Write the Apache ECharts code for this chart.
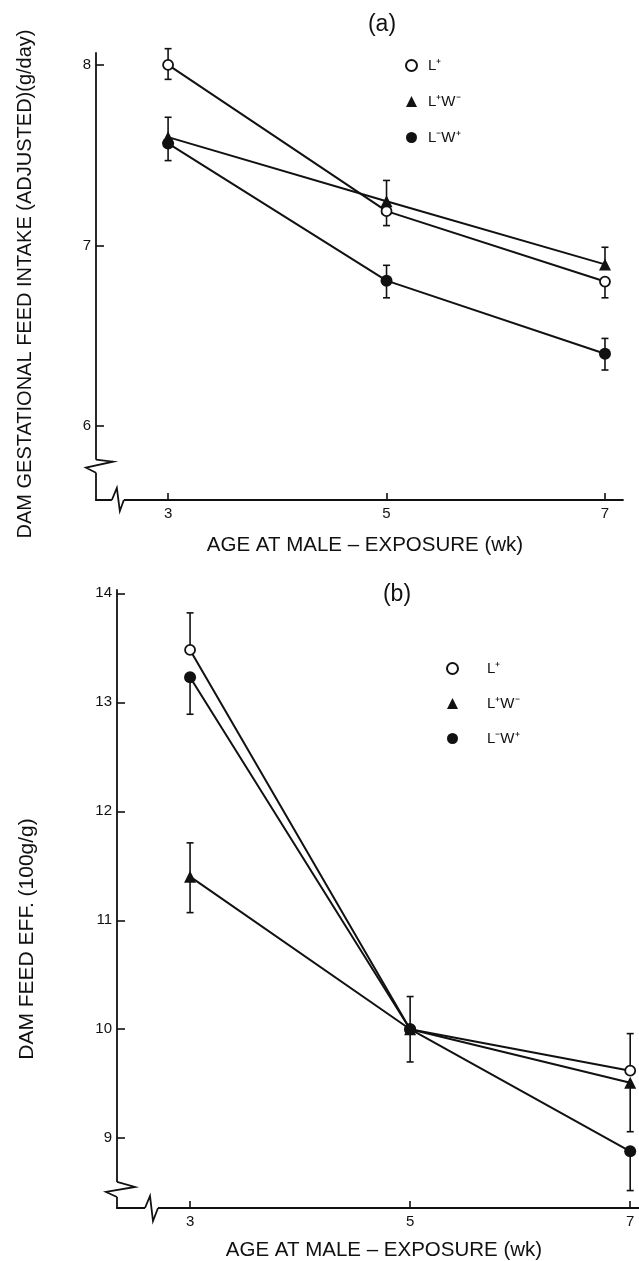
<!DOCTYPE html>
<html><head><meta charset="utf-8">
<script src="https://cdn.jsdelivr.net/npm/echarts@6/dist/echarts.min.js"></script>
<style>html,body{margin:0;padding:0;background:#fff}#c{width:639px;height:1261px}</style>
</head><body><div id="c"></div>
<script>
// ---------- data ----------
const weeks = [3, 5, 7];
const seriesNames = ['L⁺', 'L⁺W⁻', 'L⁻W⁺'];
// Panel (a): dam gestational feed intake (adjusted), g/day
const intakeLp = [8.00, 7.19, 6.80];
const intakeLpWm = [7.60, 7.245, 6.895];
const intakeLmWp = [7.565, 6.805, 6.40];
const intakeLpLow = [7.92, 7.11, 6.71];
const intakeLpHigh = [8.09, 7.19, 6.80];
const intakeLpWmLow = [7.60, 7.245, 6.895];
const intakeLpWmHigh = [7.71, 7.36, 6.99];
const intakeLmWpLow = [7.47, 6.71, 6.31];
const intakeLmWpHigh = [7.565, 6.89, 6.485];
const intakeTicks = [6, 7, 8];
// Panel (b): dam feed efficiency, 100 g/g
const effLp = [13.48, 10.0, 9.62];
const effLpWm = [11.40, 10.0, 9.51];
const effLmWp = [13.23, 10.0, 8.88];
const effLpLow = [13.48, 9.70, 9.62];
const effLpHigh = [13.82, 10.30, 9.96];
const effLpWmLow = [11.07, 10.0, 9.06];
const effLpWmHigh = [11.71, 10.0, 9.51];
const effLmWpLow = [12.89, 10.0, 8.52];
const effLmWpHigh = [13.23, 10.0, 8.88];
const effTicks = [9, 10, 11, 12, 13, 14];
const xTicks = [3, 5, 7];

// ---------- styling ----------
const FONT = '"Liberation Sans", Arial, sans-serif';
const BLACK = '#111';
const markerStyles = [
  {symbol: 'circle', symbolSize: 10, itemStyle: {color: '#fff', borderColor: BLACK, borderWidth: 1.8}},
  {symbol: 'triangle', symbolSize: 12, itemStyle: {color: BLACK, borderColor: BLACK, borderWidth: 0}},
  {symbol: 'circle', symbolSize: 12, itemStyle: {color: BLACK, borderColor: BLACK, borderWidth: 0}}
];

function pairs(xs, ys) { return xs.map((x, i) => [x, ys[i]]); }
function errData(xs, v, lo, hi) { return xs.map((x, i) => [x, lo[i], hi[i], v[i]]); }

function errRender(params, api) {
  const x = api.value(0), lo = api.value(1), hi = api.value(2), v = api.value(3);
  const pLo = api.coord([x, lo]), pHi = api.coord([x, hi]);
  const w = 3.5;
  const style = {stroke: BLACK, lineWidth: 1.6, fill: null};
  const ch = [{type: 'line', shape: {x1: pLo[0], y1: pLo[1], x2: pHi[0], y2: pHi[1]}, style}];
  if (lo < v - 1e-9) ch.push({type: 'line', shape: {x1: pLo[0] - w, y1: pLo[1], x2: pLo[0] + w, y2: pLo[1]}, style});
  if (hi > v + 1e-9) ch.push({type: 'line', shape: {x1: pHi[0] - w, y1: pHi[1], x2: pHi[0] + w, y2: pHi[1]}, style});
  return {type: 'group', children: ch};
}

function lineSeries(name, idx, data, gi) {
  return Object.assign({
    type: 'line', name, data, xAxisIndex: gi, yAxisIndex: gi, z: 3,
    lineStyle: {color: BLACK, width: 2}, showSymbol: true, animation: false
  }, markerStyles[idx]);
}
function errSeries(data, gi) {
  return {type: 'custom', renderItem: errRender, data, xAxisIndex: gi, yAxisIndex: gi, z: 1, animation: false, silent: true};
}

function xAxisCfg(gi, min, max) {
  return {
    type: 'value', gridIndex: gi, min, max,
    axisLine: {show: true, onZero: false, lineStyle: {color: BLACK, width: 1.8}},
    axisTick: {show: true, inside: true, length: 7, customValues: xTicks, lineStyle: {color: BLACK, width: 1.6}},
    axisLabel: {customValues: xTicks, color: BLACK, fontSize: 15, fontFamily: FONT, margin: 6},
    splitLine: {show: false}
  };
}
function yAxisCfg(gi, min, max, ticks) {
  return {
    type: 'value', gridIndex: gi, min, max,
    axisLine: {show: true, onZero: false, lineStyle: {color: BLACK, width: 1.8}},
    axisTick: {show: true, inside: true, length: 8, customValues: ticks, lineStyle: {color: BLACK, width: 1.6}},
    axisLabel: {customValues: ticks, color: BLACK, fontSize: 15, fontFamily: FONT, margin: 5},
    splitLine: {show: false}
  };
}
function legendCfg(left, top, gap, textPad) {
  return {
    left, top, orient: 'vertical', itemGap: gap, itemWidth: 11, itemHeight: 11,
    data: seriesNames.map((n, i) => ({name: n, icon: i === 1 ? 'triangle' : 'circle'})),
    textStyle: {color: BLACK, fontSize: 15, fontFamily: FONT, padding: [0, 0, 0, textPad]},
    selectedMode: false
  };
}

const chart = echarts.init(document.getElementById('c'), null, {renderer: 'canvas'});
chart.setOption({
  backgroundColor: '#fff',
  animation: false,
  grid: [
    {left: 96, right: 16, top: 53, bottom: 761},
    {left: 117, right: 0, top: 590, bottom: 53}
  ],
  xAxis: [xAxisCfg(0, 2.34, 7.165), xAxisCfg(1, 2.336, 7.08)],
  yAxis: [yAxisCfg(0, 5.59, 8.066, intakeTicks), yAxisCfg(1, 8.36, 14.03, effTicks)],
  legend: [legendCfg(400, 53, 21, 6), legendCfg(441, 656, 20, 24)],
  series: [
    lineSeries(seriesNames[0], 0, pairs(weeks, intakeLp), 0),
    lineSeries(seriesNames[1], 1, pairs(weeks, intakeLpWm), 0),
    lineSeries(seriesNames[2], 2, pairs(weeks, intakeLmWp), 0),
    errSeries(errData(weeks, intakeLp, intakeLpLow, intakeLpHigh), 0),
    errSeries(errData(weeks, intakeLpWm, intakeLpWmLow, intakeLpWmHigh), 0),
    errSeries(errData(weeks, intakeLmWp, intakeLmWpLow, intakeLmWpHigh), 0),
    lineSeries(seriesNames[0], 0, pairs(weeks, effLp), 1),
    lineSeries(seriesNames[1], 1, pairs(weeks, effLpWm), 1),
    lineSeries(seriesNames[2], 2, pairs(weeks, effLmWp), 1),
    errSeries(errData(weeks, effLp, effLpLow, effLpHigh), 1),
    errSeries(errData(weeks, effLpWm, effLpWmLow, effLpWmHigh), 1),
    errSeries(errData(weeks, effLmWp, effLmWpLow, effLmWpHigh), 1)
  ]
});

// ---------- decorations: axis breaks and titles ----------
function breaks(gi, xmin, ymin, xBreakVal, yBreakVal, yShape, xShape) {
  const org = chart.convertToPixel({gridIndex: gi}, [xmin, ymin]);
  const yb = chart.convertToPixel({gridIndex: gi}, [xmin, yBreakVal])[1];
  const xb = chart.convertToPixel({gridIndex: gi}, [xBreakVal, ymin])[0];
  const ls = {stroke: BLACK, lineWidth: 1.8, fill: null};
  return [
    {type: 'rect', shape: {x: org[0] - 2, y: yb + yShape[0][1], width: 4, height: yShape[3][1] - yShape[0][1]}, style: {fill: '#fff'}, z: 50},
    {type: 'polyline', shape: {points: yShape.map(p => [org[0] + p[0], yb + p[1]])}, style: ls, z: 51},
    {type: 'rect', shape: {x: xb + xShape[0][0], y: org[1] - 2, width: xShape[3][0] - xShape[0][0], height: 4}, style: {fill: '#fff'}, z: 50},
    {type: 'polyline', shape: {points: xShape.map(p => [xb + p[0], org[1] + p[1]])}, style: ls, z: 51}
  ];
}
function txt(text, x, y, size, rot) {
  return {type: 'text', x, y, rotation: rot || 0, z: 60,
    style: {text, fill: BLACK, font: size + 'px ' + FONT, textAlign: 'center', textVerticalAlign: 'middle'}};
}
const g = []
  .concat(breaks(0, 2.34, 5.59, 2.54, 5.78, [[0, -6], [17, -4], [-10, 2], [0, 7]], [[-6, 0], [-1, -12], [2, 11], [6, 0]]))
  .concat(breaks(1, 2.336, 8.36, 2.645, 8.53, [[0, -7.5], [18, -2.5], [-11, 2.5], [0, 7.5]], [[-6, 0], [-1, -12], [2, 13], [7, 0]]))
  .concat([
    txt('(a)', 382, 25, 23),
    txt('(b)', 397, 595, 23),
    txt('DAM GESTATIONAL FEED INTAKE (ADJUSTED)(g/day)', 25, 284, 20, Math.PI / 2),
    txt('DAM FEED EFF. (100g/g)', 27, 939, 21, Math.PI / 2),
    txt('AGE AT MALE – EXPOSURE (wk)', 365, 545, 20.5),
    txt('AGE AT MALE – EXPOSURE (wk)', 384, 1250, 20.5)
  ]);
chart.setOption({graphic: g});
</script>
</body></html>
